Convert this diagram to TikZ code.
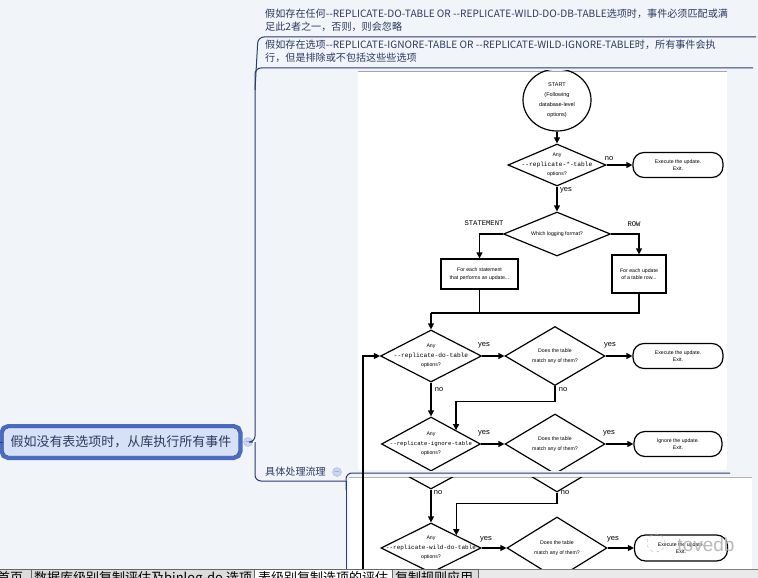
\documentclass[tikz,border=0pt]{standalone}
\usepackage{fontspec}
\setmainfont{Liberation Sans}
\setmonofont{Liberation Mono}
\newfontfamily\cjk{Noto Sans CJK SC}[Ligatures=TeXOff]
\usetikzlibrary{arrows.meta,shapes.geometric}
\definecolor{navy}{HTML}{2A3D6E}
\definecolor{ink}{HTML}{2B3A5E}
\definecolor{canvas}{HTML}{F1F4F9}
\definecolor{rootfill}{HTML}{D6E0F6}
\definecolor{rootedge}{HTML}{4A6BC2}
\definecolor{foldblue}{HTML}{C9D6F1}
\definecolor{tabgray}{HTML}{DCDCDC}
\newcommand{\opt}[2][6]{{\ttfamily\fontsize{#1}{7}\selectfont #2}}
\tikzset{topic/.style={font=\cjk\fontsize{10.1}{13}\selectfont,text=ink,align=left,
  inner sep=0pt,anchor=north west},
  rootnode/.style={draw=navy,fill=rootfill,rounded corners=5pt,minimum width=235pt,
  minimum height=28pt,font=\cjk\fontsize{13}{15}\selectfont,text=ink,
  preaction={draw=rootedge,line width=8pt}},
  fold/.style={circle,fill=foldblue,draw=foldblue!80!navy,minimum size=9pt,inner sep=0pt,
  font=\fontsize{7}{7}\selectfont,text=rootedge},
  branch/.style={draw=navy,line width=1pt,rounded corners=6pt},
  startc/.style={ellipse,draw,line width=1.2pt,minimum width=68pt,minimum height=62pt,
  inner sep=0pt,align=center,font=\fontsize{5.5}{10}\selectfont},
  dec/.style={diamond,draw,line width=1.2pt,aspect=2,inner sep=0pt},
  term/.style={rectangle,draw,line width=1.2pt,rounded corners=11pt,minimum width=90pt,
  minimum height=25pt,inner sep=0pt,align=center,font=\fontsize{5.2}{7.5}\selectfont},
  proc/.style={rectangle,draw,line width=1.2pt,inner sep=0pt,align=center,
  font=\fontsize{5.2}{7.5}\selectfont},
  ftxt/.style={inner sep=0pt,align=center,font=\fontsize{5.2}{9.5}\selectfont},
  flow/.style={-{Triangle[length=6pt,width=6pt]},line width=1.2pt},
  lbl/.style={inner sep=0pt,font=\fontsize{7.5}{8}\selectfont},
  mlbl/.style={inner sep=0pt,font=\ttfamily\fontsize{7.2}{8}\selectfont},
  tab/.style={anchor=base west,inner sep=0pt,font=\cjk\fontsize{13}{14}\selectfont}}
\begin{document}
\begin{tikzpicture}[x=1pt,y=-1pt]
\useasboundingbox (0,0) rectangle (758,578);
\fill[canvas] (0,0) rectangle (758,578);
\fill[white] (358,71) rectangle (727,470);
\draw[gray!70] (358,71) -- (727,71);
\fill[white] (349,477) rectangle (752,600);
\draw[gray!60] (349,477) -- (752,477);

\node[topic] (c1) at (265,9) {假如存在任何--REPLICATE-DO-TABLE OR --REPLICATE-WILD-DO-DB-TABLE选项时，事件必须匹配或满\\足此2者之一，否则，则会忽略};
\node[topic] (c2) at (265,40) {假如存在选项--REPLICATE-IGNORE-TABLE OR --REPLICATE-WILD-IGNORE-TABLE时，所有事件会执\\行，但是排除或不包括这些些选项};
\node[rootnode] (root) at (121,442) {假如没有表选项时，从库执行所有事件};
\node[fold] (f1) at (248,442) {$-$};
\node[topic,anchor=west] (c3) at (265,472) {具体处理流理};
\node[fold] (f2) at (337,472) {$-$};
\draw[navy] (-5,442) -- (root.west);
\draw[branch] (f1.east) -- (255,442) -- (255,68) -- (753,68);
\draw[branch] (255,90) -- (258,37) -- (756,37);
\draw[branch] (255,442) -- (255,481) -- (346,481);
\draw[branch] (346,490) -- (346,473) -- (730,473);
\draw[branch] (346,481) -- (346,600);

\begin{scope}
\clip (358,71) rectangle (727,470);
\node[startc] (start) at (557,100) {START\\(Following\\database-level\\options)};
\node[dec,minimum width=98pt,minimum height=42pt] (d1) at (557,165) {};
\node[ftxt] (d1t) at (d1) {Any\\\opt[6.2]{--replicate-*-table}\\options?};
\node[term] (t1) at (678,165) {Execute the update.\\Exit.};
\node[dec,minimum width=107pt,minimum height=44pt] (d2) at (557,234) {};
\node[ftxt] (d2t) at (d2) {Which logging format?};
\node[proc,minimum width=77pt,minimum height=30pt] (b1) at (479.5,274) {For each statement\\that performs an update...};
\node[proc,minimum width=54pt,minimum height=38pt] (b2) at (639,274) {For each update\\of a table row...};
\node[dec,minimum width=101pt,minimum height=52pt] (d3) at (431,356) {};
\node[ftxt] (d3t) at (d3) {Any\\\opt[6.2]{--replicate-do-table}\\options?};
\node[dec,minimum width=100pt,minimum height=59pt] (d4) at (555,356) {};
\node[ftxt] (d4t) at (d4) {Does the table\\match any of them?};
\node[term] (t2) at (678,356) {Execute the update.\\Exit.};
\node[dec,minimum width=99pt,minimum height=54pt] (d5) at (431,444) {};
\node[ftxt] (d5t) at (d5) {Any\\\opt[5.7]{--replicate-ignore-table}\\options?};
\node[dec,minimum width=100pt,minimum height=60pt] (d6) at (555,444) {};
\node[ftxt] (d6t) at (d6) {Does the table\\match any of them?};
\node[term,minimum width=88pt] (t3) at (678,444) {Ignore the update.\\Exit.};
\coordinate (m) at (431,313);
\draw[flow] (start) -- (d1);
\draw[flow] (d1.east) -- (t1.west);
\draw[flow] (d1) -- (d2);
\draw[flow] (d2.west) -| (b1.north);
\draw[flow] (d2.east) -| (b2.north);
\draw[line width=1.2pt] (b1.south) -- (b1.south |- m);
\draw[line width=1.2pt] (b2.south) |- (m);
\draw[flow] (m) -- (d3.north);
\draw[flow] (d3.east) -- (d4.west);
\draw[flow] (d4.east) -- (t2.west);
\draw[flow] (d3.south) -- (d5.north);
\draw[flow] (d4.south) -- ++(0,15) -| (d5.north east);
\draw[flow] (d5.east) -- (d6.west);
\draw[flow] (d6.east) -- (t3.west);
\node[lbl] (n1) at (609,159) {no};
\node[lbl] (y1) at (566,190) {yes};
\node[mlbl] (st) at (484,223) {STATEMENT};
\node[mlbl] (rw) at (634,224) {ROW};
\node[lbl] (y2) at (484,345) {yes};
\node[lbl] (y3) at (610,345) {yes};
\node[lbl] (n2) at (439,390) {no};
\node[lbl] (n3) at (563,390) {no};
\node[lbl] (y4) at (484,433) {yes};
\node[lbl] (y5) at (609,433) {yes};
\end{scope}

\begin{scope}
\clip (349,477) rectangle (752,600);
\node[dec,minimum width=99pt,minimum height=54pt] (d5b) at (431,462) {};
\node[dec,minimum width=100pt,minimum height=60pt] (d6b) at (557,462) {};
\node[dec,minimum width=100pt,minimum height=50pt] (d7) at (431,548) {};
\node[ftxt] (d7t) at (d7) {Any\\\opt{--replicate-wild-do-table}\\options?};
\node[dec,minimum width=100pt,minimum height=62pt] (d8) at (557,548) {};
\node[ftxt] (d8t) at (d8) {Does the table\\match any of them?};
\node[term,minimum width=93pt,minimum height=26pt] (t4) at (681,548) {Execute the update.\\Exit.};
\draw[flow] (d5b.south) -- (d7.north);
\draw[flow] (d6b.south) -- ++(0,11) -| (d7.north east);
\draw[flow] (d7.east) -- (d8.west);
\draw[flow] (d8.east) -- (t4.west);
\node[lbl] (n4) at (438,493) {no};
\node[lbl] (n5) at (565,493) {no};
\node[lbl] (y6) at (486,539) {yes};
\node[lbl] (y7) at (613,539) {yes};
\node[gray!55,font=\fontsize{19}{19}\selectfont,inner sep=0pt] (wm) at (706,545) {tovedb};
\draw[gray!55,dashed] (656,543) circle (9pt);
\end{scope}
\coordinate (loop) at (363,600);
\draw[flow] (loop) |- (d3.west);

\fill[tabgray!60] (0,569) rectangle (758,600);
\draw[gray] (0,569) -- (758,569);
\filldraw[fill=tabgray,draw=gray!80!black] (-2,569) rectangle (31,600);
\filldraw[fill=tabgray,draw=gray!80!black] (31,569) rectangle (254,600);
\filldraw[fill=white,draw=gray!80!black] (254,569) rectangle (392,600);
\filldraw[fill=tabgray,draw=gray!80!black] (392,569) rectangle (478,600);
\node[tab] (tab1) at (-3,582) {首页};
\node[tab] (tab2) at (34,582) {数据库级别复制评估及binlog-do 选项};
\node[tab] (tab3) at (258,582) {表级别复制选项的评估};
\node[tab] (tab4) at (395,582) {复制规则应用};
\end{tikzpicture}
\end{document}
